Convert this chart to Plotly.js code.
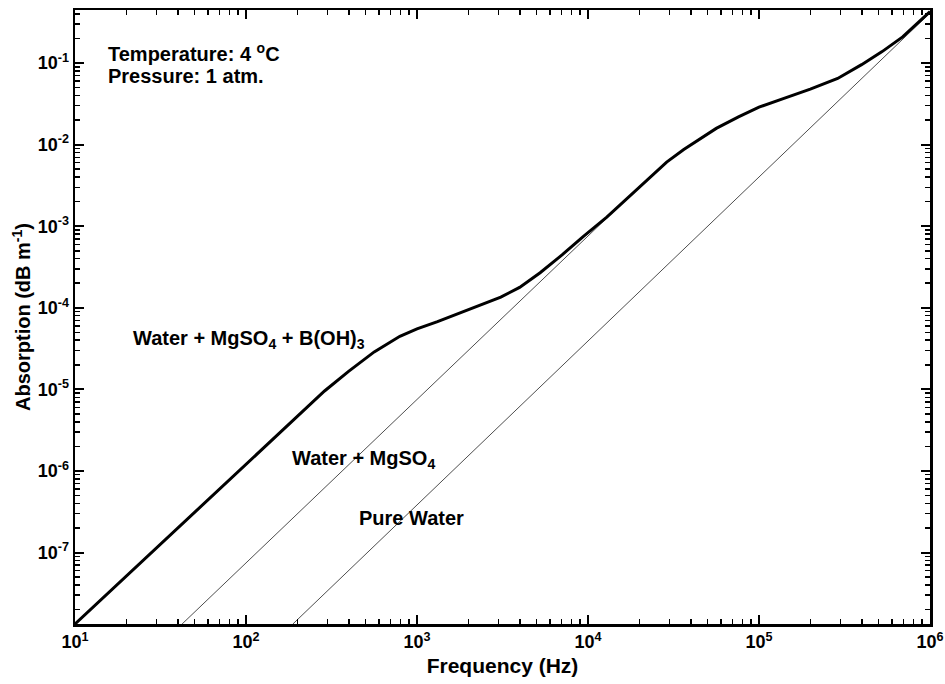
<!DOCTYPE html>
<html>
<head>
<meta charset="utf-8">
<script src="https://cdn.plot.ly/plotly-3.0.1.min.js"></script>
<style>html,body{margin:0;padding:0;background:#fff}#chart{width:945px;height:684px}</style>
</head>
<body>
<div id="chart"></div>
<script>
// Frequencies (Hz) and absorption (dB/m)
var totalFreq = [10, 100, 200, 288, 398, 562, 794, 1000, 1318, 1862, 2455, 3090, 3981, 5248, 7079, 9333, 12880, 17780, 22910, 28840, 36310, 45710, 56230, 75860, 100000, 141300, 199500, 288400, 398100, 524800, 691800, 1000000];
var totalAbs  = [1.33e-8, 1.22e-6, 4.68e-6, 9.55e-6, 1.66e-5, 2.88e-5, 4.47e-5, 5.5e-5, 6.76e-5, 8.91e-5, 1.10e-4, 1.35e-4, 1.78e-4, 2.69e-4, 4.47e-4, 7.41e-4, 1.29e-3, 2.40e-3, 3.98e-3, 6.1e-3, 8.7e-3, 1.19e-2, 1.58e-2, 2.19e-2, 2.88e-2, 3.72e-2, 4.79e-2, 6.46e-2, 9.55e-2, 0.138, 0.209, 0.427];

var mgFreq = [42.3, 12880, 17780, 22910, 28840, 36310, 45710, 56230, 75860, 100000, 141300, 199500, 288400, 398100, 524800, 691800, 1000000];
var mgAbs  = [1.33e-8, 1.29e-3, 2.40e-3, 3.98e-3, 6.1e-3, 8.7e-3, 1.19e-2, 1.58e-2, 2.19e-2, 2.88e-2, 3.72e-2, 4.79e-2, 6.46e-2, 9.55e-2, 0.138, 0.209, 0.427];

var waterFreq = [188, 1000000];
var waterAbs  = [1.33e-8, 0.41];

var seriesNames = ["Water + MgSO<sub>4</sub> + B(OH)<sub>3</sub>", "Water + MgSO<sub>4</sub>", "Pure Water"];

var xTickVals = [10, 100, 1000, 10000, 100000, 1000000];
var xTickText = ["10<sup>1</sup>", "10<sup>2</sup>", "10<sup>3</sup>", "10<sup>4</sup>", "10<sup>5</sup>", "10<sup>6</sup>"];
var yTickVals = [1e-7, 1e-6, 1e-5, 1e-4, 1e-3, 1e-2, 1e-1];
var yTickText = ["10<sup>-7</sup>", "10<sup>-6</sup>", "10<sup>-5</sup>", "10<sup>-4</sup>", "10<sup>-3</sup>", "10<sup>-2</sup>", "10<sup>-1</sup>"];

function minorTicks(lo, hi) {
  var out = [];
  for (var e = lo; e <= hi; e++) {
    for (var m = 2; m <= 9; m++) out.push(m * Math.pow(10, e));
  }
  return out;
}

var FONT = "'Liberation Sans', Arial, Helvetica, sans-serif";

var traces = [
  {x: waterFreq, y: waterAbs, mode: 'lines', name: seriesNames[2], line: {color: '#3a3a3a', width: 0.9}},
  {x: mgFreq, y: mgAbs, mode: 'lines', name: seriesNames[1], line: {color: '#3a3a3a', width: 0.9}},
  {x: totalFreq, y: totalAbs, mode: 'lines', name: seriesNames[0], line: {color: '#000', width: 3}}
];

function axis(tv, tt, minorVals) {
  return {
    type: 'log',
    showgrid: false,
    zeroline: false,
    showline: true,
    linecolor: '#000',
    linewidth: 2.5,
    mirror: 'allticks',
    ticks: 'inside',
    ticklen: 9,
    tickwidth: 2,
    tickcolor: '#000',
    tickmode: 'array',
    tickvals: tv,
    ticktext: tt,
    tickfont: {family: FONT, size: 18, color: '#000', weight: 'bold'},
    minor: {ticks: 'inside', ticklen: 5, tickwidth: 1.5, tickcolor: '#000', tickmode: 'array', tickvals: minorVals, showgrid: false}
  };
}

var layout = {
  width: 945, height: 684,
  margin: {l: 75, r: 15, t: 10, b: 60},
  paper_bgcolor: '#fff', plot_bgcolor: '#fff',
  showlegend: false,
  font: {family: FONT, color: '#000'},
  xaxis: Object.assign(axis(xTickVals, xTickText, minorTicks(1, 5)), {
    range: [1, 6],
    title: {text: 'Frequency (Hz)', font: {family: FONT, size: 21, color: '#000', weight: 'bold'}, standoff: 7}
  }),
  yaxis: Object.assign(axis(yTickVals, yTickText, minorTicks(-8, -1)), {
    range: [Math.log10(1.33e-8), -0.35],
    title: {text: 'Absorption (dB m<sup>-1</sup>)', font: {family: FONT, size: 20, color: '#000', weight: 'bold'}, standoff: 2}
  }),
  annotations: [
    {xref: 'paper', yref: 'paper', x: (106 - 75) / 855, y: (624 - 52) / 614, xanchor: 'left', yanchor: 'middle', showarrow: false,
     text: 'Temperature: 4 <sup>o</sup>C', font: {family: FONT, size: 20, color: '#000', weight: 'bold'}},
    {xref: 'paper', yref: 'paper', x: (106 - 75) / 855, y: (624 - 76) / 614, xanchor: 'left', yanchor: 'middle', showarrow: false,
     text: 'Pressure: 1 atm.', font: {family: FONT, size: 20, color: '#000', weight: 'bold'}},
    {xref: 'paper', yref: 'paper', x: (131 - 75) / 855, y: (624 - 339) / 614, xanchor: 'left', yanchor: 'middle', showarrow: false,
     text: seriesNames[0], font: {family: FONT, size: 20, color: '#000', weight: 'bold'}},
    {xref: 'paper', yref: 'paper', x: (290 - 75) / 855, y: (624 - 459) / 614, xanchor: 'left', yanchor: 'middle', showarrow: false,
     text: seriesNames[1], font: {family: FONT, size: 20, color: '#000', weight: 'bold'}},
    {xref: 'paper', yref: 'paper', x: (357 - 75) / 855, y: (624 - 518) / 614, xanchor: 'left', yanchor: 'middle', showarrow: false,
     text: seriesNames[2], font: {family: FONT, size: 20, color: '#000', weight: 'bold'}}
  ]
};

Plotly.newPlot('chart', traces, layout, {staticPlot: true, displayModeBar: false});
</script>
</body>
</html>
